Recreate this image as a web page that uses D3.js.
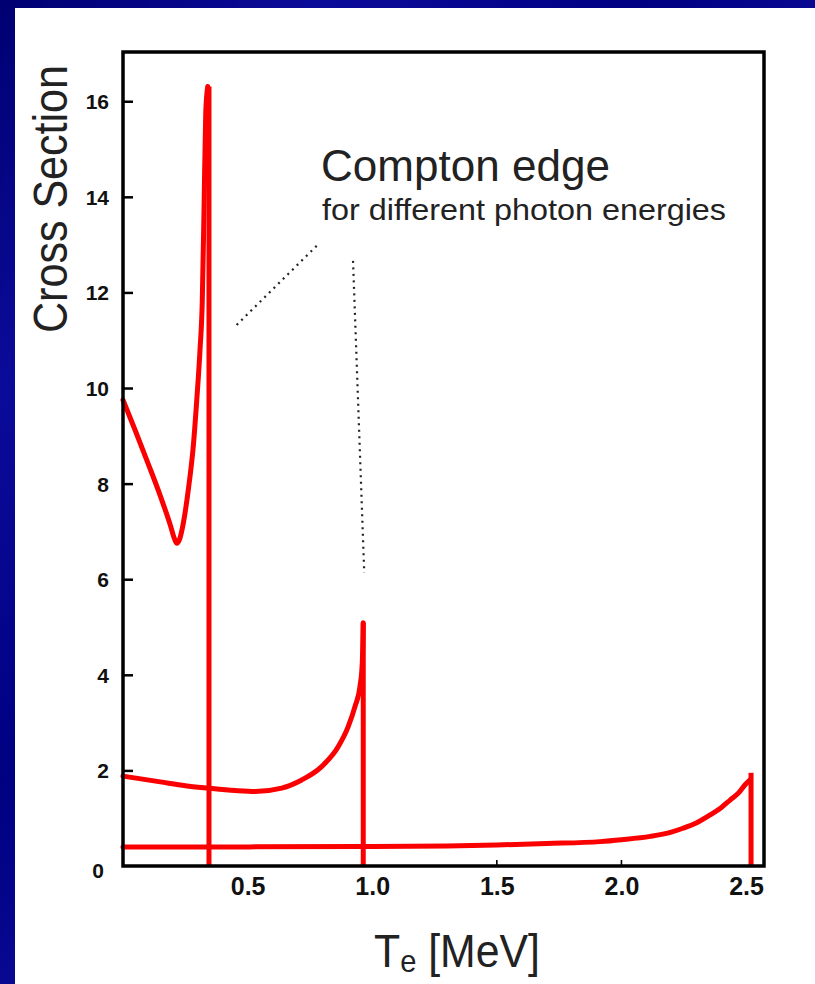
<!DOCTYPE html>
<html>
<head>
<meta charset="utf-8">
<script src="https://cdn.jsdelivr.net/npm/d3@7"></script>
<style>
  html, body { margin: 0; padding: 0; background: #ffffff; }
  svg { display: block; }
</style>
</head>
<body>
<script>
// Compton electron spectra dσ/dT for three photon energies, each ending in its Compton edge.
// Points are [T_e in MeV, cross section].
const spectrumLow = [[0, 9.75], [0.05, 9.1], [0.1, 8.43], [0.15, 7.74], [0.19, 7.13], [0.207, 6.84], [0.216, 6.75],
  [0.228, 6.85], [0.242, 7.17], [0.262, 7.87], [0.282, 8.78], [0.296, 9.75], [0.309, 10.8],
  [0.318, 11.8], [0.325, 13.7], [0.332, 15.76], [0.34, 16.31]];
const spectrumMid = [[0, 1.88], [0.15, 1.76], [0.25, 1.68], [0.342, 1.63], [0.45, 1.58], [0.53, 1.56],
  [0.637, 1.63], [0.717, 1.8], [0.797, 2.08], [0.864, 2.5], [0.904, 2.92], [0.931, 3.34],
  [0.951, 3.76], [0.96, 4.24], [0.964, 5.09]];
const spectrumHigh = [[0, 0.4], [0.5, 0.4], [1.0, 0.41], [1.3, 0.42], [1.5, 0.44], [1.7, 0.47],
  [1.914, 0.51], [2.0, 0.55], [2.115, 0.62], [2.2, 0.71], [2.247, 0.79], [2.3, 0.9], [2.356, 1.07],
  [2.4, 1.22], [2.436, 1.38], [2.47, 1.53], [2.496, 1.7], [2.515, 1.8]];

// Compton edge positions (MeV) and the height where each spectrum drops to zero
const edgeEnergy = [0.345, 0.964, 2.52];
const edgeHeight = [16.31, 5.09, 1.95];

// Axis ticks
const yTickValues = [0, 2, 4, 6, 8, 10, 12, 14, 16];
const xTickValues = [0.5, 1.0, 1.5, 2.0, 2.5];
const xTickMarks = [1.5, 2.0];

// Dotted leader lines from the annotation to the edges: [[T, σ], [T, σ]]
const leaderLines = [
  [[0.456, 11.32], [0.784, 13.01]],
  [[0.923, 12.66], [0.968, 6.13]]
];

const W = 815, H = 984;
const svg = d3.select("body").append("svg").attr("width", W).attr("height", H);

// Slide-style navy border
const defs = svg.append("defs");
const grad = defs.append("linearGradient").attr("id", "navy")
  .attr("x1", "0").attr("y1", "0").attr("x2", "1").attr("y2", "1");
[["0%", "#000072"], ["20%", "#0b0b9a"], ["40%", "#000082"], ["60%", "#1010a0"], ["80%", "#00007c"], ["100%", "#0b0b96"]]
  .forEach(([o, c]) => grad.append("stop").attr("offset", o).attr("stop-color", c));
svg.append("rect").attr("width", W).attr("height", H).attr("fill", "url(#navy)");
svg.append("rect").attr("x", 15).attr("y", 8).attr("width", W - 15).attr("height", H - 8).attr("fill", "#ffffff");

// Scales
const x = d3.scaleLinear().domain([0, 2.572]).range([123, 764]);
const y = d3.scaleLinear().domain([0, 17.03]).range([866, 52]);

const red = "#fb0000";
const line = d3.line().x(d => x(d[0])).y(d => y(d[1])).curve(d3.curveMonotoneX);

const plot = svg.append("g");

// Spectra
[spectrumLow, spectrumMid, spectrumHigh].forEach(s => {
  plot.append("path").attr("d", line(s))
    .attr("fill", "none").attr("stroke", red).attr("stroke-width", 5)
    .attr("stroke-linejoin", "round").attr("stroke-linecap", "round");
});

// Vertical drops at the Compton edges
plot.selectAll("line.edge").data(edgeEnergy).join("line").attr("class", "edge")
  .attr("x1", d => x(d)).attr("x2", d => x(d))
  .attr("y1", (d, i) => y(edgeHeight[i])).attr("y2", y(0))
  .attr("stroke", red).attr("stroke-width", 5);

// Frame around the plot area
const [x0, x1] = x.range();
const [yb, yt] = y.range();
svg.append("rect").attr("x", x0).attr("y", yt).attr("width", x1 - x0).attr("height", yb - yt)
  .attr("fill", "none").attr("stroke", "#000").attr("stroke-width", 3.5);

// Y axis: inward ticks with bold labels
const yAxis = d3.axisLeft(y).tickValues(yTickValues).tickSize(-10).tickPadding(14)
  .tickFormat(d => d3.format("d")(d));
const gy = svg.append("g").attr("transform", `translate(${x0},0)`).call(yAxis);
gy.select(".domain").remove();
gy.selectAll(".tick line").attr("stroke", "#000").attr("stroke-width", 2.5)
  .attr("display", d => d === 0 ? "none" : null);
gy.selectAll(".tick text")
  .attr("font-family", "'Liberation Sans', Arial, sans-serif")
  .attr("font-weight", "bold").attr("font-size", 21).attr("fill", "#111")
  .attr("dy", "0.36em")
  .attr("x", d => d === 0 ? -19 : -14)
  .attr("transform", d => d === 0 ? "translate(0,4)" : null);

// X axis: labels at every half MeV, small inward tick marks only where drawn
const xAxis = d3.axisBottom(x).tickValues(xTickValues).tickSize(0).tickPadding(11)
  .tickFormat(d3.format(".1f"));
const gx = svg.append("g").attr("transform", `translate(0,${yb})`).call(xAxis);
gx.select(".domain").remove();
gx.selectAll(".tick text")
  .attr("font-family", "'Liberation Sans', Arial, sans-serif")
  .attr("font-weight", "bold").attr("font-size", 25).attr("fill", "#111");

svg.append("g").selectAll("line").data(xTickMarks).join("line")
  .attr("x1", d => x(d)).attr("x2", d => x(d))
  .attr("y1", yb).attr("y2", yb - 6)
  .attr("stroke", "#000").attr("stroke-width", 1.6);

// Axis titles
svg.append("text")
  .attr("transform", "translate(67,199) rotate(-90)")
  .attr("text-anchor", "middle")
  .attr("font-family", "'Liberation Sans', Arial, sans-serif")
  .attr("font-size", 48).attr("fill", "#222")
  .attr("textLength", 268).attr("lengthAdjust", "spacingAndGlyphs")
  .text("Cross Section");

const xt = svg.append("text")
  .attr("transform", "translate(374,967) scale(0.91,1)")
  .attr("font-family", "'Liberation Sans', Arial, sans-serif")
  .attr("font-size", 47).attr("fill", "#222");
xt.append("tspan").text("T");
xt.append("tspan").attr("font-size", 32).attr("dy", 5).text("e");
xt.append("tspan").attr("dy", -5).text(" [MeV]");

// Annotation
svg.append("text").attr("x", 321).attr("y", 181)
  .attr("font-family", "'Liberation Sans', Arial, sans-serif")
  .attr("font-size", 44).attr("fill", "#222")
  .attr("textLength", 289).attr("lengthAdjust", "spacingAndGlyphs")
  .text("Compton edge");
svg.append("text").attr("x", 322).attr("y", 220)
  .attr("font-family", "'Liberation Sans', Arial, sans-serif")
  .attr("font-size", 30).attr("fill", "#222")
  .attr("textLength", 404).attr("lengthAdjust", "spacingAndGlyphs")
  .text("for different photon energies");

svg.append("g").selectAll("line").data(leaderLines).join("line")
  .attr("x1", d => x(d[0][0])).attr("y1", d => y(d[0][1]))
  .attr("x2", d => x(d[1][0])).attr("y2", d => y(d[1][1]))
  .attr("stroke", "#222").attr("stroke-width", 2.2)
  .attr("stroke-dasharray", "2 4.5");
</script>
</body>
</html>
